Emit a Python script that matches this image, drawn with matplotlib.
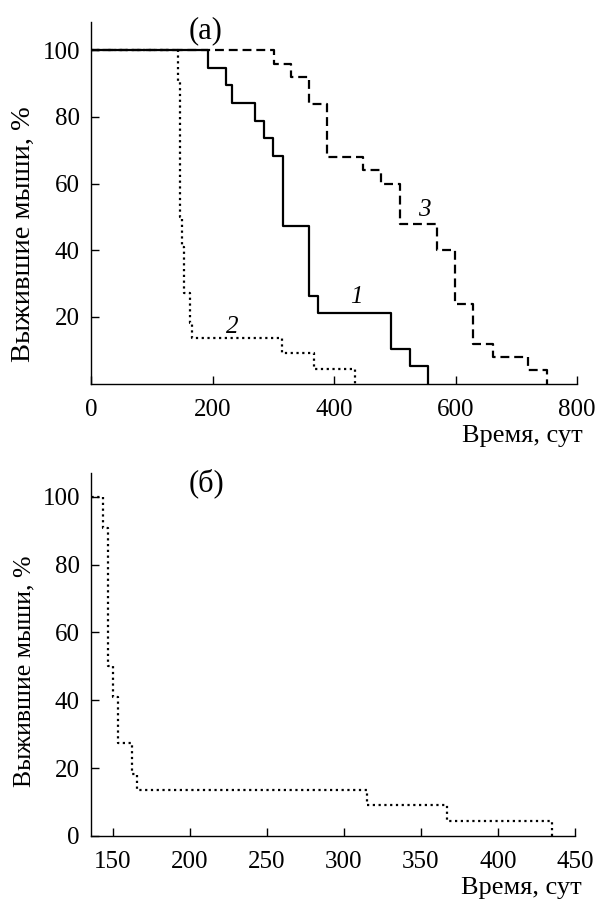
import matplotlib.pyplot as plt

plt.rcParams['font.family'] = ['Liberation Serif', 'DejaVu Serif']

# survival curves (time in days, % surviving mice)
t1 = [0, 192, 223, 232, 270, 285, 300, 316, 359, 374, 494, 525, 554]
s1 = [100, 94.7, 89.5, 84.2, 78.9, 73.7, 68.4, 47.4, 26.3, 21.1, 10.5, 5.3, 0]

t2 = [0, 144, 147, 150, 153.5, 162.5, 166, 315, 367, 435]
s2 = [100, 90.9, 50.0, 40.9, 27.3, 18.2, 13.6, 9.1, 4.5, 0]

t3 = [0, 302, 330, 359, 389, 448, 478, 508, 569, 599, 629, 661, 719, 750]
s3 = [100, 96, 92, 84, 68, 64, 60, 48, 40, 24, 12, 8, 4, 0]

xticks_a = [0, 200, 400, 600, 800]
yticks_a = [20, 40, 60, 80, 100]
xticks_b = [150, 200, 250, 300, 350, 400, 450]
yticks_b = [0, 20, 40, 60, 80, 100]

fig = plt.figure(figsize=(5.99, 9.02), dpi=100)
W, H = 599, 902
ax1 = fig.add_axes([91 / W, 1 - 383.5 / H, (577 - 91) / W, (383.5 - 22) / H])
ax2 = fig.add_axes([91 / W, 1 - 836 / H, (575 - 91) / W, (836 - 473) / H])

dash = (0, (4, 2.2))
dot = (0, (1, 1.6))


def style(ax, ylab_size, ylab_pos, xlab_x, xlab_y):
    for s in ['top', 'right']:
        ax.spines[s].set_visible(False)
    for s in ['left', 'bottom']:
        ax.spines[s].set_linewidth(1.0)
    ax.tick_params(direction='in', length=6, width=1.0, labelsize=18, pad=8)
    ax.tick_params(axis='x', pad=11)
    ax.set_ylabel('Выжившие мыши, %', fontsize=ylab_size)
    ax.yaxis.set_label_coords(-0.114, ylab_pos)
    ax.set_xlabel('Время, сут', fontsize=19, ha='right')
    ax.xaxis.set_label_coords(xlab_x, xlab_y)


ax1.step(t2, s2, where='post', color='black', lw=1.6, linestyle=dot)
ax1.step(t3, s3, where='post', color='black', lw=1.6, linestyle=dash)
ax1.step(t1, s1, where='post', color='black', lw=1.6)
ax1.set_xlim(0, 800)
ax1.set_ylim(0, 108.5)
ax1.set_xticks(xticks_a)
ax1.set_yticks(yticks_a)
style(ax1, 20.5, 0.414, 1.012, -0.115)
ax1.text(188, 106, '(a)', fontsize=22, ha='center', va='center')
ax1.text(232, 17, '2', fontsize=18, style='italic', ha='center', va='center')
ax1.text(549, 52, '3', fontsize=18, style='italic', ha='center', va='center')
ax1.text(437, 26, '1', fontsize=18, style='italic', ha='center', va='center')

ax2.step(t2, s2, where='post', color='black', lw=1.6, linestyle=dot)
ax2.set_xlim(136, 450)
ax2.set_ylim(0, 107)
ax2.set_xticks(xticks_b)
ax2.set_yticks(yticks_b)
style(ax2, 18.5, 0.4545, 1.0145, -0.113)
ax2.text(211, 104, '(б)', fontsize=22, ha='center', va='center')

fig.savefig('out.png', dpi=100)
